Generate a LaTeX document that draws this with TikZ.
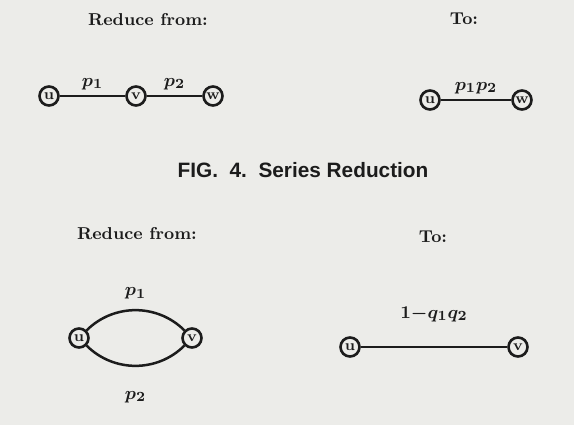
\documentclass[tikz,border=0pt]{standalone}
\usepackage{fontspec}
\newfontfamily\capfont{Liberation Sans}
\definecolor{paper}{RGB}{236,236,233}
\definecolor{ink}{RGB}{28,28,28}

\begin{document}
\begin{tikzpicture}[x=.5pt,y=.5pt,
 every node/.style={text=ink},
 vertex/.style={circle,draw=ink,line width=1.3pt,inner sep=0pt,minimum size=9.5pt,
   font=\fontsize{7.5}{8}\selectfont\bfseries},
 edge/.style={ink,line width=1.25pt},
 heading/.style={font=\fontsize{8.6}{11}\selectfont\bfseries},
 weight/.style={font=\fontsize{9.5}{11}\selectfont\boldmath,inner sep=1pt},
 caption/.style={font=\capfont\fontsize{10.4}{12}\selectfont\bfseries}]
 \fill[paper] (0,0) rectangle (574,425);
 % series case
 \node[heading] (from1) at (148,405) {Reduce from:};
 \node[heading] (to1) at (464,406) {To:};
 \node[vertex] (u1) at (49,329) {u};
 \node[vertex] (v1) at (136,329) {v};
 \node[vertex] (w1) at (213,329) {w};
 \draw[edge] (u1) -- node[weight,above=1.5pt] (p11) {$p_1$} (v1);
 \draw[edge] (v1) -- node[weight,above=1.5pt] (p12) {$p_2$} (w1);
 \node[vertex] (u2) at (430,325) {u};
 \node[vertex] (w2) at (522,325) {w};
 \draw[edge] (u2) -- node[weight,above=1.5pt] (p1p2) {$p_1p_2$} (w2);
 \node[caption] (fig) at (303,255) {FIG.\ \ 4.\ \ Series Reduction};
 % parallel case
 \node[heading] (from2) at (137,191) {Reduce from:};
 \node[heading] (to2) at (433,188) {To:};
 \node[vertex] (u3) at (79,87) {u};
 \node[vertex] (v3) at (192,87) {v};
 \draw[edge] (u3) to[bend left=45] node[weight,above=4pt] (p21) {$p_1$} (v3);
 \draw[edge] (u3) to[bend right=45] node[weight,below=11pt] (p22) {$p_2$} (v3);
 \node[vertex] (u4) at (350,78) {u};
 \node[vertex] (v4) at (518,78) {v};
 \draw[edge] (u4) -- node[weight,above=11pt] (q) {$1{-}q_1q_2$} (v4);
\end{tikzpicture}
\end{document}
